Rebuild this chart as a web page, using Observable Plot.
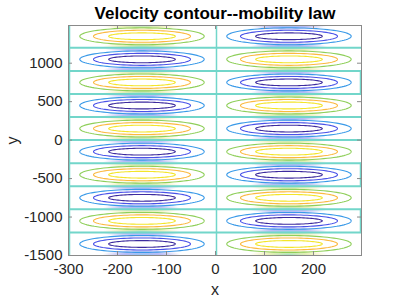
<!DOCTYPE html>
<html>
<head>
<meta charset="utf-8">
<script src="https://cdn.jsdelivr.net/npm/d3@7"></script>
<script src="https://cdn.jsdelivr.net/npm/@observablehq/plot@0.6"></script>
<style>
  html, body { margin: 0; padding: 0; background: white; }
</style>
</head>
<body>
<div id="chart"></div>
<script>
// ---- data ----
const titleText = "Velocity contour--mobility law";
const xTicks = [-300, -200, -100, 0, 100, 200];
const yTicks = [-1500, -1000, -500, 0, 500, 1000];
const xDomain = [-300, 298];
const yDomain = [-1500, 1490];
// band centres (y) from top to bottom, and the sign of the left-half cell in each band
const bandCenters = [1350, 1050, 750, 450, 150, -150, -450, -750, -1050, -1350];
const leftSigns = [1, -1, 1, -1, 1, -1, 1, -1, 1, -1];
// band boundaries where the zero contour lies
const boundaries = [1200, 900, 600, 300, 0, -300, -600, -900, -1200];
const zeroVertical = [-300, 0];
// centre x of each half cell
const halfCenters = [-150, 150];
// contour levels (outer to inner): half-width in x and half-height in y
const levelHalfWidth = [127, 99, 68];
const levelHalfHeight = [110, 78, 44];
const warmColors = ["#8fcf5a", "#fbb940", "#f3e52a"];
const coolColors = ["#3a9ae8", "#4a52e8", "#3d2b9e"];
const zeroColor = "#72d6ca";
// right edge bands that show a zero-contour segment
const rightEdgeBands = [2, 6, 8];

// ---- build tables ----
const pts = [];
let id = 0;
bandCenters.forEach((cy, i) => {
  halfCenters.forEach((cx, h) => {
    const s = leftSigns[i] * (h === 0 ? 1 : -1);
    levelHalfWidth.forEach((a, k) => {
      const b = levelHalfHeight[k];
      const color = s > 0 ? warmColors[k] : coolColors[k];
      const N = 90;
      for (let j = 0; j <= N; j++) {
        const t = (j / N) * 2 * Math.PI;
        pts.push({id, color, x: cx + a * Math.cos(t), y: cy + b * Math.sin(t)});
      }
      id++;
    });
  });
});

// smear patches at the boundaries (centre of each half)
const smear = {warmUp: [], coolUp: [], warmDown: [], coolDown: []};
const allBounds = [1490, ...boundaries, -1500];
allBounds.forEach((yb, j) => {
  halfCenters.forEach((cx, h) => {
    const hs = h === 0 ? 1 : -1;
    if (j - 1 >= 0) {
      const s = leftSigns[j - 1] * hs;
      (s > 0 ? smear.warmUp : smear.coolUp).push({x1: cx - 80, x2: cx + 80, y1: yb, y2: yb + 150});
    }
    if (j < bandCenters.length) {
      const s = leftSigns[j] * hs;
      (s > 0 ? smear.warmDown : smear.coolDown).push({x1: cx - 80, x2: cx + 80, y1: yb - 150, y2: yb});
    }
  });
});

const rightSegs = rightEdgeBands.map(i => ({y1: bandCenters[i] - 150, y2: bandCenters[i] + 150}));

const W = 399, H = 299;
const mL = 68, mR = 38, mT = 25, mB = 44;
const plotH = H - mT - mB, plotW = W - mL - mR;
const axisColor = "#8a8a8a";
const fmt = d => String(d);

const chart = Plot.plot({
  width: W,
  height: H,
  marginLeft: mL,
  marginRight: mR,
  marginTop: mT,
  marginBottom: mB,
  style: {fontFamily: "'Liberation Sans', Arial, Helvetica, sans-serif", fontSize: "15px", color: "#262626", background: "white"},
  x: {domain: xDomain},
  y: {domain: yDomain},
  color: {type: "identity"},
  marks: [
    Plot.rect(smear.warmUp, {x1: "x1", x2: "x2", y1: "y1", y2: "y2", fill: "url(#gWarmUp)", clip: true}),
    Plot.rect(smear.coolUp, {x1: "x1", x2: "x2", y1: "y1", y2: "y2", fill: "url(#gCoolUp)", clip: true}),
    Plot.rect(smear.warmDown, {x1: "x1", x2: "x2", y1: "y1", y2: "y2", fill: "url(#gWarmDown)", clip: true}),
    Plot.rect(smear.coolDown, {x1: "x1", x2: "x2", y1: "y1", y2: "y2", fill: "url(#gCoolDown)", clip: true}),
    Plot.ruleY(boundaries, {stroke: zeroColor, strokeWidth: 2}),
    Plot.ruleX(zeroVertical, {stroke: zeroColor, strokeWidth: 1.5, dx: 1}),
    Plot.ruleX(rightSegs, {x: xDomain[1], y1: "y1", y2: "y2", stroke: zeroColor, strokeWidth: 1.5, dx: -1}),
    Plot.line(pts, {x: "x", y: "y", z: "id", stroke: "color", strokeWidth: 1.1}),
    Plot.frame({stroke: axisColor, strokeWidth: 1}),
    // inward ticks
    Plot.ruleX(xTicks, {stroke: axisColor, insetTop: plotH - 4}),
    Plot.ruleX(xTicks, {stroke: axisColor, insetBottom: plotH - 4}),
    Plot.ruleY(yTicks, {stroke: axisColor, insetRight: plotW - 4}),
    Plot.ruleY(yTicks, {stroke: axisColor, insetLeft: plotW - 4}),
    Plot.axisX(xTicks, {tickSize: 0, tickPadding: 8, label: null, fontSize: 15, tickFormat: fmt}),
    Plot.axisY(yTicks, {tickSize: 0, tickPadding: 6, label: null, fontSize: 15, tickFormat: fmt}),
    Plot.text([titleText], {frameAnchor: "top", lineAnchor: "middle", dy: -12, fontWeight: "bold", fontSize: 17, fill: "black"}),
    Plot.text(["x"], {frameAnchor: "bottom", lineAnchor: "middle", dy: 34, fontSize: 16, fill: "#262626"}),
    Plot.text(["y"], {frameAnchor: "left", textAnchor: "middle", lineAnchor: "middle", dx: -56, rotate: -90, fontSize: 16, fill: "#262626"})
  ]
});

// gradient definitions for the smeared bands
const ns = "http://www.w3.org/2000/svg";
const defs = document.createElementNS(ns, "defs");
function grad(idName, cy, stops) {
  const g = document.createElementNS(ns, "radialGradient");
  g.setAttribute("id", idName);
  g.setAttribute("cx", "0.5");
  g.setAttribute("cy", cy);
  g.setAttribute("r", "0.5");
  stops.forEach(([o, c, op]) => {
    const s = document.createElementNS(ns, "stop");
    s.setAttribute("offset", o);
    s.setAttribute("stop-color", c);
    s.setAttribute("stop-opacity", op);
    g.appendChild(s);
  });
  defs.appendChild(g);
}
const warmStops = [[0, "#8fdcbc", 0.9], [0.5, "#d2e386", 0.6], [1, "#f5e070", 0]];
const coolStops = [[0, "#84c4f2", 0.9], [0.5, "#8a8ff2", 0.6], [1, "#8a80e0", 0]];
grad("gWarmUp", "1", warmStops);
grad("gCoolUp", "1", coolStops);
grad("gWarmDown", "0", warmStops);
grad("gCoolDown", "0", coolStops);
chart.insertBefore(defs, chart.firstChild);

document.getElementById("chart").appendChild(chart);
</script>
</body>
</html>
